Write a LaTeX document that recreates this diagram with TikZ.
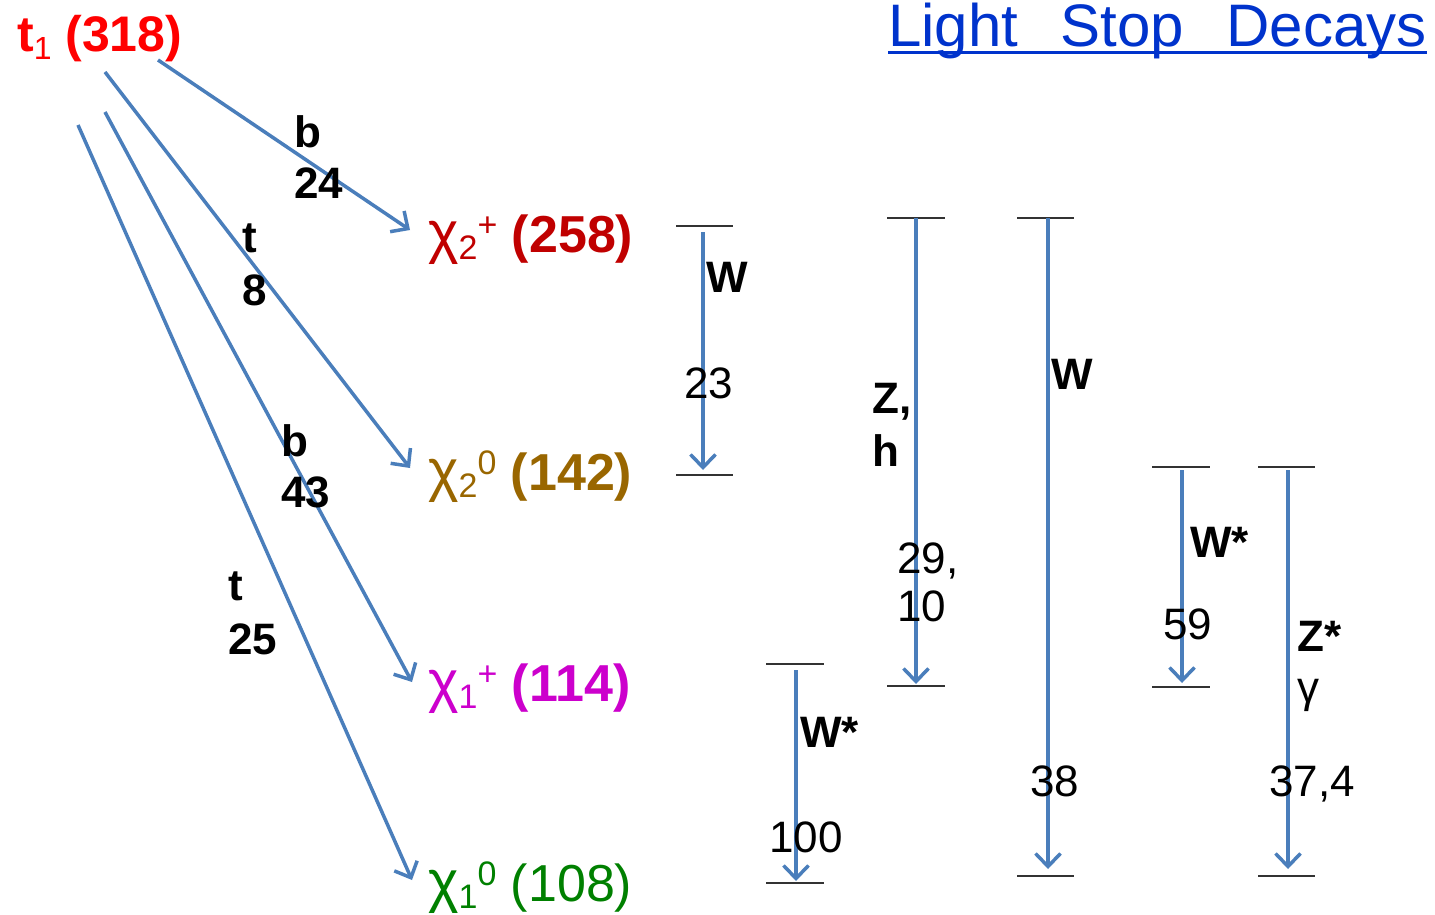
\documentclass[tikz,border=0pt]{standalone}
\usepackage{fontspec}
\setmainfont{Liberation Sans}
\usetikzlibrary{arrows.meta}
\definecolor{arr}{HTML}{4A7EBB}
\definecolor{cred}{HTML}{FF0000}
\definecolor{cdred}{HTML}{C00000}
\definecolor{cgold}{HTML}{996600}
\definecolor{cmag}{HTML}{CC00CC}
\definecolor{cgreen}{HTML}{008000}
\definecolor{ctitle}{HTML}{0033CC}
\newcommand{\lsub}[1]{\raisebox{-7pt}{\fontsize{34}{34}\selectfont\mdseries #1}}
\newcommand{\lsup}[1]{\raisebox{16pt}{\fontsize{34}{34}\selectfont\mdseries #1}}
\newcommand{\chisym}{{\fontsize{58}{58}\selectfont\mdseries χ}}
\begin{document}
\begin{tikzpicture}[x=1pt,y=-1pt,
  lvl/.style={line width=1.5pt, black!80},
  decay/.style={line width=3.5pt, arr, -{Straight Barb[length=13pt,width=25pt,line width=3.5pt]}},
  big/.style={anchor=base west, inner sep=0pt, font=\fontsize{52}{60}\selectfont\bfseries},
  lab/.style={anchor=base west, inner sep=0pt, font=\fontsize{44}{50}\selectfont},
  labb/.style={anchor=base west, inner sep=0pt, font=\fontsize{44}{50}\selectfont\bfseries}]
\useasboundingbox (0,0) rectangle (1435,915);

% title
\node[anchor=base west, inner sep=0pt, font=\fontsize{60}{66}\selectfont, text=ctitle] (title) at (888,47) {Light\ \ \hspace{9pt}Stop\ \ \hspace{9pt}Decays};
\draw[ctitle, line width=3pt] ([yshift=-6pt]title.base west) -- ([yshift=-6pt]title.base east);

% particles
\node[big, text=cred, font=\fontsize{50}{56}\selectfont\bfseries] (t1) at (17,52) {t\raisebox{-8pt}{\fontsize{32}{32}\selectfont\mdseries 1} (318)};
\node[big, text=cdred] (c2p) at (428,252) {\chisym\lsub{2}\lsup{+} (258)};
\node[big, text=cgold] (c2z) at (428,490) {\chisym\lsub{2}\lsup{0} (142)};
\node[big, text=cmag] (c1p) at (428,701) {\chisym\lsub{1}\lsup{+} (114)};
\node[big, text=cgreen, font=\fontsize{52}{60}\selectfont\mdseries] (c1z) at (428,901) {\chisym\lsub{1}\lsup{0} (108)};

% stop decay arrows
\coordinate (s1) at (158,60);  \coordinate (e1) at (410,230);
\coordinate (s2) at (105,72);  \coordinate (e2) at (410,468);
\coordinate (s3) at (105,112); \coordinate (e3) at (412,682);
\coordinate (s4) at (78,125);  \coordinate (e4) at (412,880);
\draw[decay] (s1) -- (e1);
\draw[decay] (s2) -- (e2);
\draw[decay] (s3) -- (e3);
\draw[decay] (s4) -- (e4);
\node[labb] (l1a) at (294,147) {b};
\node[labb] (l1b) at (294,198) {24};
\node[labb] (l2a) at (242,252) {t};
\node[labb] (l2b) at (242,305) {8};
\node[labb] (l3a) at (281,456) {b};
\node[labb] (l3b) at (281,507) {43};
\node[labb] (l4a) at (228,600) {t};
\node[labb] (l4b) at (228,654) {25};

% level ticks
\coordinate (A1) at (676,226); \coordinate (A2) at (733,226);
\coordinate (A3) at (676,475); \coordinate (A4) at (733,475);
\coordinate (B1) at (766,664); \coordinate (B2) at (824,664);
\coordinate (B3) at (766,883); \coordinate (B4) at (824,883);
\coordinate (C1) at (887,218); \coordinate (C2) at (945,218);
\coordinate (C3) at (887,686); \coordinate (C4) at (945,686);
\coordinate (D1) at (1017,218); \coordinate (D2) at (1074,218);
\coordinate (D3) at (1017,876); \coordinate (D4) at (1074,876);
\coordinate (E1) at (1152,467); \coordinate (E2) at (1210,467);
\coordinate (E3) at (1152,687); \coordinate (E4) at (1210,687);
\coordinate (F1) at (1258,467); \coordinate (F2) at (1315,467);
\coordinate (F3) at (1258,876); \coordinate (F4) at (1315,876);
\foreach \c in {A,B,C,D,E,F}{
  \draw[lvl] (\c1) -- (\c2);
  \draw[lvl] (\c3) -- (\c4);
}

% vertical decay arrows
\coordinate (As) at (703,232);  \coordinate (Ae) at (703,470);
\coordinate (Bs) at (796,670);  \coordinate (Be) at (796,881);
\coordinate (Cs) at (916,218);  \coordinate (Ce) at (916,684);
\coordinate (Ds) at (1048,218); \coordinate (De) at (1048,869);
\coordinate (Es) at (1182,470); \coordinate (Ee) at (1182,683);
\coordinate (Fs) at (1288,470); \coordinate (Fe) at (1288,869);
\foreach \c in {A,B,C,D,E,F}{
  \draw[decay] (\c s) -- (\c e);
}

% labels of vertical arrows
\node[labb] (wa) at (706,292) {W};
\node[lab] (na) at (684,398) {23};
\node[labb] (wb) at (800,747) {W*};
\node[lab] (nb) at (769,852) {100};
\node[labb] (zc) at (872,413) {Z,};
\node[labb] (hc) at (872,466) {h};
\node[lab] (nc1) at (897,573) {29,};
\node[lab] (nc2) at (897,621) {10};
\node[labb] (wd) at (1051,389) {W};
\node[lab] (nd) at (1030,796) {38};
\node[labb] (we) at (1190,557) {W*};
\node[lab] (ne) at (1163,639) {59};
\node[labb] (zf) at (1297,651) {Z*};
\node[lab] (gf) at (1297,702) {γ};
\node[lab] (nf) at (1269,796) {37,4};
\end{tikzpicture}
\end{document}
